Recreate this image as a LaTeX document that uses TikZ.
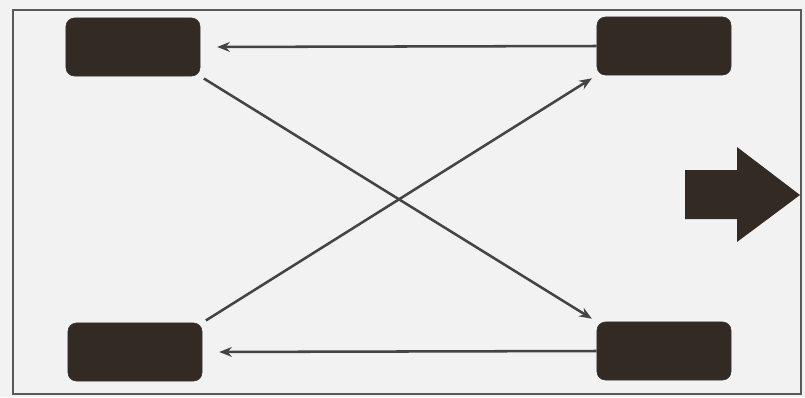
\documentclass[tikz,border=0pt]{standalone}
\usepackage{tikz}
\usetikzlibrary{arrows.meta,positioning,calc}

\definecolor{tyrecol}{RGB}{52,42,36}
\definecolor{linecol}{RGB}{68,68,68}
\definecolor{bgcol}{RGB}{242,242,242}

\begin{document}
\begin{tikzpicture}[x=0.025cm,y=-0.025cm,>={Stealth[length=9pt,width=7pt]},
 tyre/.style={draw=black!80,fill=tyrecol,rounded corners=6pt,minimum width=3.35cm,minimum height=1.45cm,inner sep=0pt},
 swap/.style={->,line width=1.8pt,linecol},
 frame/.style={line width=1.4pt,black!65}]
 \useasboundingbox (0,0) rectangle (805,397);
 \fill[bgcol] (0,0) rectangle (805,397);
 \draw[frame] (13,10) rectangle (801,394);
 % tyres
 \node[tyre] (FL) at (133,47) {};
 \node[tyre] (FR) at (664,46) {};
 \node[tyre] (RL) at (135,352) {};
 \node[tyre] (RR) at (664,351) {};
 % rotation pattern
 \draw[swap,shorten >=12pt] (FR.west) -- (FL.east);
 \draw[swap,shorten >=12pt] (RR.west) -- (RL.east);
 \draw[swap,shorten <=3pt,shorten >=4pt] (FL.south east) -- (RR.north west);
 \draw[swap,shorten <=3pt,shorten >=4pt] (RL.north east) -- (FR.south west);
 % driving direction
 \fill[tyrecol] (685,170) -- (737,170) -- (737,147) -- (800,195) -- (737,242) -- (737,219) -- (685,219) -- cycle;
\end{tikzpicture}
\end{document}
